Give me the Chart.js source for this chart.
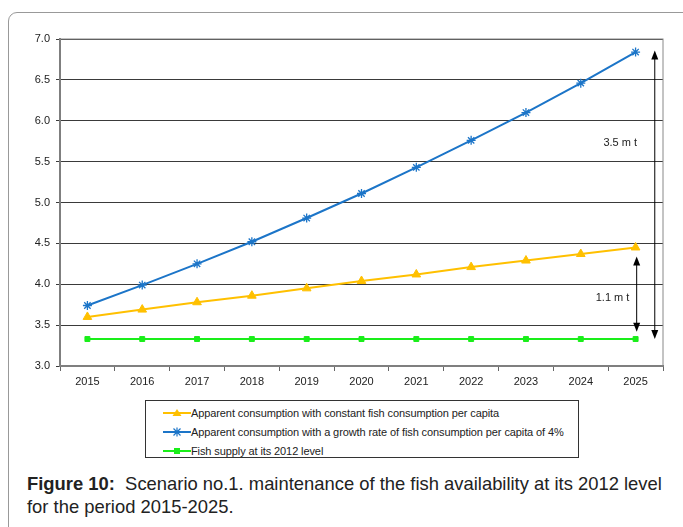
<!DOCTYPE html>
<html lang="en">
<head>
<meta charset="UTF-8">
<title>Figure 10</title>
<style>
  body { margin: 0; background: #fff; font-family: "Liberation Sans", Arial, sans-serif; }
  .card { position: absolute; left: 8px; top: 12px; width: 700px; height: 560px;
          border: 1px solid #999; border-radius: 9px; }
  #wrap { position: absolute; left: 0; top: 0; width: 683px; height: 395px; }
  .legend { position: absolute; left: 145px; top: 400px; width: 434px; height: 58px;
            border: 1px solid #333; box-sizing: border-box; padding-top: 3px; }
  .legend div { height: 19px; line-height: 19px; font-size: 11px; color: #222;
                padding-left: 17px; letter-spacing: -0.1px; white-space: nowrap; }
  .legend svg { vertical-align: middle; margin-right: 0; position: relative; top: -1px; }
  .caption { position: absolute; left: 27px; top: 472px; font-size: 18.4px; line-height: 23px; color: #222; }
</style>
</head>
<body>
<div class="card"></div>
<div id="wrap"><canvas id="myChart"></canvas></div>
<div class="legend" id="legend"></div>
<div class="caption"><b>Figure 10:</b>&nbsp; Scenario no.1. maintenance of the fish availability at its 2012 level<br>for the period 2015-2025.</div>

<script src="https://cdn.jsdelivr.net/npm/chart.js@4/dist/chart.umd.min.js"></script>
<script>
// data (million tonnes)
var years = ['2015','2016','2017','2018','2019','2020','2021','2022','2023','2024','2025'];
var constantPerCapita = [3.60, 3.69, 3.78, 3.86, 3.95, 4.04, 4.12, 4.21, 4.29, 4.37, 4.45];
var growth4pct = [3.74, 3.99, 4.25, 4.52, 4.81, 5.11, 5.43, 5.76, 6.10, 6.46, 6.84];
var supply2012 = [3.33, 3.33, 3.33, 3.33, 3.33, 3.33, 3.33, 3.33, 3.33, 3.33, 3.33];

var labels = [
  'Apparent consumption with constant fish consumption per capita',
  'Apparent consumption with a growth rate of fish consumption per capita of 4%',
  'Fish supply at its 2012 level'
];
var colors = ['#ffc000', '#1c75c8', '#1aee1a'];
var markers = ['triangle', 'star', 'rect'];

// gap arrows (from supply up to each scenario in 2025)
var gapArrows = [
  { x: 10.35, from: 3.33, to: 6.86, text: '3.5 m t', tx: 9.72, ty: 5.73 },
  { x: 10.02, from: 3.42, to: 4.34, text: '1.1 m t', tx: 9.58, ty: 3.83 }
];

var arrowPlugin = {
  id: 'arrows',
  afterDatasetsDraw: function(chart) {
    var ctx = chart.ctx, xs = chart.scales.x, ys = chart.scales.y, a = chart.chartArea;
    var step = xs.getPixelForValue(1) - xs.getPixelForValue(0);
    ctx.save();
    // plot frame
    ctx.strokeStyle = '#888';
    ctx.lineWidth = 1;
    ctx.strokeRect(a.left, a.top, a.right - a.left, a.bottom - a.top);
    gapArrows.forEach(function(g) {
      var x = xs.getPixelForValue(0) + g.x * step;
      var y1 = ys.getPixelForValue(g.to), y2 = ys.getPixelForValue(g.from);
      ctx.strokeStyle = '#000';
      ctx.fillStyle = '#000';
      ctx.lineWidth = 1;
      ctx.beginPath();
      ctx.moveTo(x, y1 + 4);
      ctx.lineTo(x, y2 - 4);
      ctx.stroke();
      ctx.beginPath();
      ctx.moveTo(x, y1); ctx.lineTo(x - 3.5, y1 + 9); ctx.lineTo(x + 3.5, y1 + 9); ctx.closePath();
      ctx.fill();
      ctx.beginPath();
      ctx.moveTo(x, y2); ctx.lineTo(x - 3.5, y2 - 9); ctx.lineTo(x + 3.5, y2 - 9); ctx.closePath();
      ctx.fill();
      ctx.font = '11px "Liberation Sans", Arial, sans-serif';
      ctx.fillStyle = '#222';
      ctx.textAlign = 'center';
      ctx.textBaseline = 'middle';
      ctx.fillText(g.text, xs.getPixelForValue(0) + g.tx * step, ys.getPixelForValue(g.ty));
    });
    ctx.restore();
  }
};

var series = [constantPerCapita, growth4pct, supply2012];
var datasets = series.map(function(d, i) {
  return {
    label: labels[i],
    data: d,
    borderColor: colors[i],
    backgroundColor: colors[i],
    borderWidth: 2,
    pointStyle: markers[i],
    pointRadius: i === 1 ? 4.5 : (i === 0 ? 5 : 3.5),
    pointBorderWidth: i === 1 ? 1.3 : 1,
    tension: 0
  };
});

new Chart(document.getElementById('myChart'), {
  type: 'line',
  data: { labels: years, datasets: datasets },
  options: {
    responsive: true,
    maintainAspectRatio: false,
    animation: false,
    layout: { padding: { top: 39, right: 20, left: 0, bottom: 0 } },
    plugins: { legend: { display: false }, tooltip: { enabled: false } },
    scales: {
      x: {
        offset: true,
        afterFit: function(s) { s.height = 29; },
        grid: { offset: true, drawOnChartArea: false, drawTicks: true, tickLength: 5, color: '#666' },
        border: { color: '#777', width: 2 },
        ticks: { color: '#222', font: { size: 11, family: '"Liberation Sans", Arial, sans-serif' }, padding: 4, maxRotation: 0 }
      },
      y: {
        min: 3.0, max: 7.0,
        afterFit: function(s) { s.width = 60; },
        ticks: { stepSize: 0.5, color: '#222', padding: 6,
                 font: { size: 11, family: '"Liberation Sans", Arial, sans-serif' },
                 callback: function(v) { return v.toFixed(1); } },
        grid: { color: '#3a3a3a', lineWidth: 1, tickLength: 4 },
        border: { color: '#777', width: 2 }
      }
    }
  },
  plugins: [arrowPlugin]
});

// html legend built from the same series info
var leg = document.getElementById('legend');
labels.forEach(function(l, i) {
  var m;
  if (markers[i] === 'triangle') m = '<polygon points="14,1 18.5,8 9.5,8" fill="' + colors[i] + '"/>';
  else if (markers[i] === 'star') m = '<path d="M10.5,1.5 L17.5,8.5 M17.5,1.5 L10.5,8.5 M14,0.5 L14,9.5" stroke="' + colors[i] + '" stroke-width="1.2"/>';
  else m = '<rect x="11" y="2" width="6" height="6" fill="' + colors[i] + '"/>';
  var div = document.createElement('div');
  div.innerHTML = '<svg width="28" height="10"><line x1="0" y1="5" x2="28" y2="5" stroke="' + colors[i] + '" stroke-width="2"/>' + m + '</svg>' + l;
  leg.appendChild(div);
});
</script>
</body>
</html>
